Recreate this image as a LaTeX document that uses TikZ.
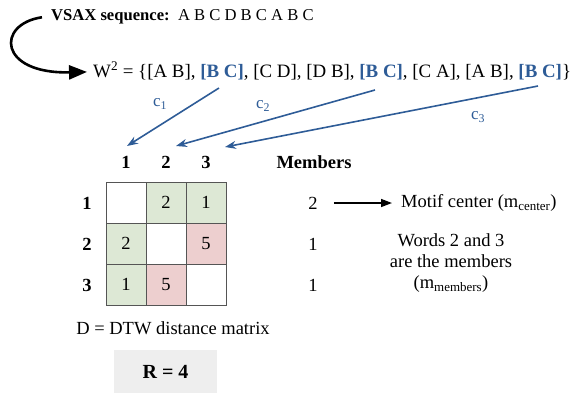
\documentclass[tikz,border=0pt]{standalone}
\usepackage{fontspec}
\setmainfont{Liberation Serif}
\usetikzlibrary{arrows.meta}
\definecolor{cblue}{HTML}{2E5C97}
\definecolor{cgreen}{HTML}{DDE8D5}
\definecolor{cpink}{HTML}{EDCFCF}
\definecolor{cgray}{HTML}{EEEEEE}
\definecolor{cborder}{HTML}{555555}
\tikzset{
  txt/.style={inner sep=0pt, font=\fontsize{18.5}{21}\selectfont},
  bld/.style={txt, font=\fontsize{18.5}{21}\selectfont\bfseries},
  lab/.style={inner sep=0pt, text=cblue, font=\fontsize{17}{19}\selectfont},
  cell/.style={draw=cborder, line width=0.8pt, minimum width=40pt, minimum height=41pt, inner sep=0pt, font=\fontsize{18.5}{21}\selectfont},
  carrow/.style={draw=cblue, line width=1.6pt, -{Stealth[length=11pt,width=8pt]}},
}
\begin{document}
\begin{tikzpicture}[x=1pt,y=-1pt]
\useasboundingbox (0,0) rectangle (579,392);
% top lines
\node[inner sep=0pt, anchor=base west, font=\fontsize{16.6}{19}\selectfont] (seq) at (51,20) {\textbf{VSAX sequence:}\enspace A B C D B C A B C};
\node[inner sep=0pt, anchor=base west, font=\fontsize{18.9}{22}\selectfont] (w) at (93,77) {W\textsuperscript{2} = \{[A B], \textcolor{cblue}{\textbf{[B C]}}, [C D], [D B], \textcolor{cblue}{\textbf{[B C]}}, [C A], [A B], \textcolor{cblue}{\textbf{[B C]}}\}};
\draw[line width=2.6pt, -{Triangle[length=18pt,width=14pt]}]
  ([xshift=-9pt,yshift=-1pt]seq.west) .. controls (-4,24) and (-2,74) .. ([xshift=-6pt,yshift=-1pt]w.west);
% c arrows
\coordinate (c1s) at (219,88); \coordinate (c1e) at (127,146);
\coordinate (c2s) at (375,90); \coordinate (c2e) at (176,146);
\coordinate (c3s) at (538,86); \coordinate (c3e) at (225,147);
\draw[carrow] (c1s) -- (c1e);
\draw[carrow] (c2s) -- (c2e);
\draw[carrow] (c3s) -- (c3e);
\node[lab] (l1) at (160,104) {c\textsubscript{1}};
\node[lab] (l2) at (263,106) {c\textsubscript{2}};
\node[lab] (l3) at (478,117) {c\textsubscript{3}};
% headers
\node[bld] (h1) at (126,162) {1};
\node[bld] (h2) at (166,162) {2};
\node[bld] (h3) at (206,162) {3};
\node[bld] (hm) at (314,162) {Members};
\node[bld] (r1) at (87,203) {1};
\node[bld] (r2) at (87,244) {2};
\node[bld] (r3) at (87,285) {3};
% matrix
\node[cell] (m11) at (126,202.5) {};
\node[cell, fill=cgreen] (m12) at (166,202.5) {2};
\node[cell, fill=cgreen] (m13) at (206,202.5) {1};
\node[cell, fill=cgreen] (m21) at (126,243.5) {2};
\node[cell] (m22) at (166,243.5) {};
\node[cell, fill=cpink] (m23) at (206,243.5) {5};
\node[cell, fill=cgreen] (m31) at (126,284.5) {1};
\node[cell, fill=cpink] (m32) at (166,284.5) {5};
\node[cell] (m33) at (206,284.5) {};
% members
\node[txt] (n1) at (313,203) {2};
\node[txt] (n2) at (313,244) {1};
\node[txt] (n3) at (313,285) {1};
\node[txt, anchor=west] (mc) at (401,203) {Motif center (m\textsubscript{center})};
\draw[line width=1.5pt, -{Triangle[length=11pt,width=8pt]}] ([xshift=16pt]n1.east) -- ([xshift=-9pt]mc.west);
\node[txt, align=center] (wd) at (451,263) {Words 2 and 3\\are the members\\(m\textsubscript{members})};
\node[txt] (dd) at (173,328) {D = DTW distance matrix};
\node[fill=cgray, minimum width=103pt, minimum height=44pt, inner sep=0pt, font=\fontsize{20}{24}\selectfont\bfseries] (rr) at (165.5,372) {R = 4};
\end{tikzpicture}
\end{document}
